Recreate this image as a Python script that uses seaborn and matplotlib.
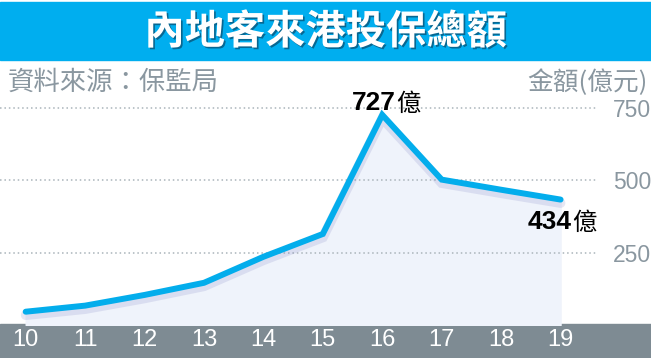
import matplotlib
matplotlib.use("Agg")
import matplotlib.pyplot as plt
import matplotlib.patheffects as pe
from matplotlib import font_manager
from matplotlib.patches import Rectangle
import seaborn as sns

# data
years = [10, 11, 12, 13, 14, 15, 16, 17, 18, 19]
year_labels = ["10", "11", "12", "13", "14", "15", "16", "17", "18", "19"]
amounts = [46, 67, 104, 146, 236, 315, 727, 503, 468, 434]
y_ticks = [250, 500, 750]
y_tick_labels = ["250", "500", "750"]

title = "內地客來港投保總額"
source = "資料來源：保監局"
unit = "金額(億元)"
unit_suffix = "億"

sns.set_theme(style="white")
installed = {f.name for f in font_manager.fontManager.ttflist}
narrow = "Liberation Sans Narrow" if "Liberation Sans Narrow" in installed else "Liberation Sans"
cjk = "Noto Sans CJK TC"
plt.rcParams["font.family"] = [narrow, cjk, "DejaVu Sans"]

W, H = 651, 358
fig = plt.figure(figsize=(W / 100, H / 100), dpi=100)
fig.patch.set_facecolor("white")


def fx(px):
    return px / W


def fy(py):
    return 1 - py / H


def pt(px):
    return px * 0.72


blue = "#03adec"
band = "#7e8b93"
grey_txt = "#8a97a0"

# title banner and bottom band
fig.patches.append(Rectangle((0, fy(60)), 1, fy(2) - fy(60), transform=fig.transFigure,
                             color="#00aeef", zorder=-1))
fig.patches.append(Rectangle((0, 0), 1, fy(324), transform=fig.transFigure,
                             color=band, zorder=-1))

fig.text(0.5, fy(44), title, ha="center", va="baseline", color="white",
         fontsize=29, fontweight="heavy", family=[cjk],
         path_effects=[pe.withSimplePatchShadow(offset=(1.2, -1.2), shadow_rgbFace="#0b4a6b", alpha=0.7)])
fig.text(fx(8), fy(90), source, ha="left", va="baseline", color=grey_txt,
         fontsize=19, fontweight="light", family=[cjk])
fig.text(fx(648), fy(90), unit, ha="right", va="baseline", color=grey_txt,
         fontsize=18.5, fontweight="light", family=[cjk])

ax = fig.add_axes([0, fy(325), fx(598), fy(62) - fy(325)])
ax.patch.set_alpha(0)
ax.set_xlim(9.5675, 19.63)
ax.set_ylim(0, 910)

for v in y_ticks:
    ax.axhline(v, color="#aab4ba", linestyle=(0, (1, 1.9)), linewidth=1.1, zorder=2)

ax.fill_between(years, amounts, 0, color="#eff3fb", zorder=1)
sns.lineplot(x=years, y=amounts, ax=ax, color=blue, linewidth=4.3, zorder=3,
             solid_capstyle="round", solid_joinstyle="miter",
             path_effects=[pe.SimpleLineShadow(offset=(0, -2.5), shadow_color="#6a6fb8",
                                               alpha=0.16, linewidth=7),
                           pe.Normal()])

ax.set_xticks(years, year_labels)
ax.tick_params(axis="x", direction="in", length=pt(8), width=pt(4), color=band,
               labelcolor="white", labelsize=17, pad=pt(4))
ax.yaxis.tick_right()
ax.set_yticks(y_ticks, y_tick_labels)
ax.tick_params(axis="y", length=0, pad=pt(15), labelcolor=grey_txt, labelsize=16.5)
for s in ax.spines.values():
    s.set_visible(False)
ax.set_xlabel("")
ax.set_ylabel("")

# value labels at the peak and the last year
peak = amounts.index(max(amounts))
for i, dx, dy in [(peak, 13, 4.5), (len(years) - 1, 11, -29.5)]:
    ax.annotate(str(amounts[i]), xy=(years[i], amounts[i]), xytext=(pt(dx), pt(dy)),
                textcoords="offset points", ha="right", va="baseline", color="black",
                fontsize=19, fontweight="bold", family=["Liberation Sans"], zorder=5)
    ax.annotate(unit_suffix, xy=(years[i], amounts[i]), xytext=(pt(dx + 1), pt(dy - 1)),
                textcoords="offset points", ha="left", va="baseline", color="black",
                fontsize=17.5, family=[cjk], zorder=5)

fig.savefig("out.png", dpi=100)
